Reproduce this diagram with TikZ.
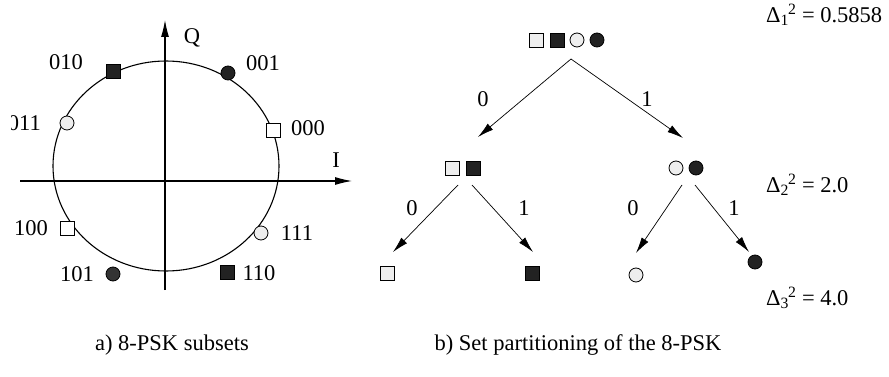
\documentclass[tikz,border=0pt]{standalone}
\usepackage{fontspec}
\setmainfont{Liberation Serif}
\usetikzlibrary{arrows.meta}
\definecolor{lightf}{HTML}{EEEEEE}
\definecolor{darkf}{HTML}{222222}
\begin{document}
\begin{tikzpicture}[x=1pt,y=-1pt,
  mk/.style={draw=black,line width=0.8pt,inner sep=0pt,minimum size=14pt},
  sqL/.style={mk,rectangle,fill=white},
  sqG/.style={mk,rectangle,fill=lightf},
  sqD/.style={mk,rectangle,fill=darkf},
  ciL/.style={mk,circle,fill=lightf},
  ciD/.style={mk,circle,fill=darkf},
  lbl/.style={font=\fontsize{22.5}{26}\selectfont,inner sep=0pt},
  axis/.style={line width=1.1pt,-{Latex[length=17pt,width=8pt]}},
  arr/.style={line width=0.7pt,-{Latex[length=16pt,width=8pt]}}]
\useasboundingbox (0,0) rectangle (889,377);
\fill[white] (0,0) rectangle (889,377);
% ---------- a) constellation
\draw[line width=1.1pt] (166,166) ellipse [x radius=113, y radius=105];
\coordinate (iL) at (20,181);
\coordinate (iR) at (352,181);
\coordinate (qB) at (165,290);
\coordinate (qT) at (165,20);
\draw[axis] (iL) -- (iR);
\draw[axis] (qB) -- (qT);
\node[lbl] (Q) at (192,38) {Q};
\node[lbl] (I) at (336,160) {I};
\node[sqD] (p010) at (113,71) {};
\node[ciD] (p001) at (228,73) {};
\node[ciL] (p011) at (67,123) {};
\node[sqL] (p000) at (273,130) {};
\node[sqL] (p100) at (67,228) {};
\node[ciL] (p111) at (261,233) {};
\node[ciD,fill=black!80] (p101) at (113,274) {};
\node[sqD] (p110) at (227,272) {};
\node[lbl] (l010) at (66,62) {010};
\node[lbl] (l001) at (263,63) {001};
\begin{scope}
\clip (11,100) rectangle (60,150);
\node[lbl,anchor=east] (l011) at (41,123) {011};
\end{scope}
\node[lbl] (l000) at (308,128) {000};
\node[lbl] (l100) at (31,228) {100};
\node[lbl] (l111) at (297,233) {111};
\node[lbl] (l101) at (77,274) {101};
\node[lbl] (l110) at (259,273) {110};
\node[lbl] (capa) at (172,345) {a) 8-PSK subsets};
% ---------- b) set partitioning
\node[sqG] (t1) at (536,40) {};
\node[sqD] (t2) at (557,40) {};
\node[ciL] (t3) at (577,40) {};
\node[ciD] (t4) at (597,40) {};
\coordinate (apex) at (571,59);
\coordinate (eL) at (478,137);
\coordinate (eR) at (683,138);
\draw[arr] (apex) -- (eL);
\draw[arr] (apex) -- (eR);
\node[lbl] (b0) at (483,99) {0};
\node[lbl] (b1) at (647,99) {1};
\node[sqG] (m1) at (452,168) {};
\node[sqD] (m2) at (473,168) {};
\node[ciL] (m3) at (676,168) {};
\node[ciD] (m4) at (696,168) {};
\coordinate (sL1) at (458,185);
\coordinate (sL2) at (472,185);
\coordinate (sR1) at (682,185);
\coordinate (sR2) at (695,185);
\node[sqG] (f1) at (387,273) {};
\node[sqD] (f2) at (532,273) {};
\node[ciL] (f3) at (636,275) {};
\node[ciD] (f4) at (755,262) {};
\coordinate (eA) at (393,252);
\coordinate (eB) at (533,252);
\coordinate (eC) at (636,253);
\coordinate (eD) at (749,252);
\draw[arr] (sL1) -- (eA);
\draw[arr] (sL2) -- (eB);
\draw[arr] (sR1) -- (eC);
\draw[arr] (sR2) -- (eD);
\node[lbl] (c0) at (412,208) {0};
\node[lbl] (c1) at (524,208) {1};
\node[lbl] (c2) at (633,208) {0};
\node[lbl] (c3) at (734,208) {1};
\node[lbl,anchor=west] (d1) at (766,15) {Δ\textsubscript{1}\kern-1pt\textsuperscript{2} = 0.5858};
\node[lbl,anchor=west] (d2) at (766,185) {Δ\textsubscript{2}\kern-1pt\textsuperscript{2} = 2.0};
\node[lbl,anchor=west] (d3) at (766,298) {Δ\textsubscript{3}\kern-1pt\textsuperscript{2} = 4.0};
\node[lbl] (capb) at (578,345) {b) Set partitioning of the 8-PSK};
\end{tikzpicture}
\end{document}
